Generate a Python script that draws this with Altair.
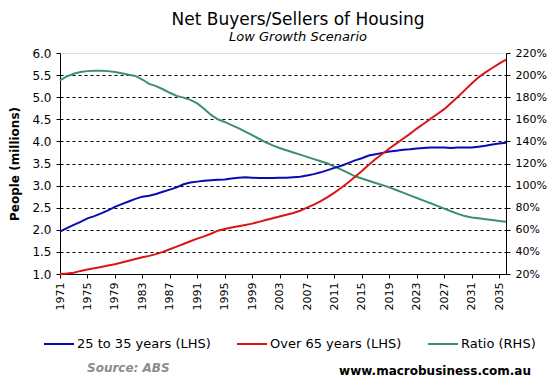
import altair as alt
import pandas as pd

years = list(range(1971, 2037))

young = [1.96, 2.04, 2.11, 2.18, 2.26, 2.31, 2.37, 2.44, 2.52, 2.58,
         2.64, 2.70, 2.75, 2.77, 2.81, 2.86, 2.91, 2.96, 3.03, 3.07,
         3.09, 3.11, 3.12, 3.13, 3.14, 3.16, 3.18, 3.19, 3.18, 3.17,
         3.17, 3.17, 3.18, 3.18, 3.19, 3.20, 3.23, 3.26, 3.30, 3.35,
         3.40, 3.45, 3.51, 3.57, 3.62, 3.68, 3.71, 3.74, 3.77, 3.79,
         3.81, 3.82, 3.84, 3.85, 3.86, 3.86, 3.86, 3.85, 3.86, 3.86,
         3.86, 3.88, 3.90, 3.93, 3.95, 3.97]

old = [1.00, 1.01, 1.03, 1.07, 1.10, 1.13, 1.16, 1.19, 1.22, 1.26,
       1.30, 1.34, 1.38, 1.41, 1.45, 1.50, 1.56, 1.62, 1.68, 1.74,
       1.80, 1.85, 1.91, 1.98, 2.02, 2.05, 2.08, 2.11, 2.14, 2.18,
       2.22, 2.26, 2.30, 2.34, 2.38, 2.43, 2.50, 2.57, 2.65, 2.74,
       2.84, 2.95, 3.07, 3.20, 3.33, 3.47, 3.60, 3.72, 3.84, 3.95,
       4.06, 4.17, 4.29, 4.40, 4.51, 4.62, 4.73, 4.87, 5.01, 5.16,
       5.31, 5.45, 5.56, 5.66, 5.76, 5.85]

ratio = [195.2, 198.8, 201.2, 202.8, 203.6, 204.0, 204.0, 203.6, 202.8, 201.6,
         200.4, 199.2, 196.0, 192.0, 190.0, 187.2, 184.0, 181.2, 179.6, 177.6,
         174.4, 169.6, 164.0, 160.0, 157.6, 154.8, 152.0, 148.8, 145.6, 142.4,
         139.2, 136.4, 134.0, 132.0, 130.0, 128.0, 126.0, 124.0, 122.0, 120.0,
         117.2, 114.4, 111.6, 108.4, 106.4, 104.4, 102.4, 100.4, 98.4, 96.0,
         93.6, 91.2, 88.8, 86.4, 84.0, 81.6, 79.2, 76.8, 74.4, 72.4,
         71.2, 70.4, 69.6, 68.8, 68.0, 67.2]

series_names = ["25 to 35 years (LHS)", "Over 65 years (LHS)", "Ratio (RHS)"]
series_colors = ["#0A0AB4", "#DC1414", "#3C9070"]
year_ticks = list(range(1971, 2036, 4))
left_ticks = [1.0, 1.5, 2.0, 2.5, 3.0, 3.5, 4.0, 4.5, 5.0, 5.5, 6.0]
right_ticks = [20, 40, 60, 80, 100, 120, 140, 160, 180, 200, 220]

FONT = "DejaVu Sans"

df_left = pd.DataFrame({
    "year": years + years,
    "value": young + old,
    "series": [series_names[0]] * len(years) + [series_names[1]] * len(years),
})
df_right = pd.DataFrame({"year": years, "value": ratio, "series": series_names[2]})

color = alt.Color(
    "series:N",
    scale=alt.Scale(domain=series_names, range=series_colors),
    legend=alt.Legend(
        orient="none", direction="horizontal", legendX=-17, legendY=275,
        title=None, symbolType="stroke", symbolSize=900, symbolStrokeWidth=2,
        labelFont=FONT, labelFontSize=13, labelColor="black", labelOffset=2,
        columnPadding=22,
    ),
)

x = alt.X(
    "year:Q",
    scale=alt.Scale(domain=[1971, 2036], nice=False, zero=False),
    axis=alt.Axis(
        values=year_ticks, format="d", labelAngle=270, title=None, grid=False,
        labelFont=FONT, labelFontSize=11, labelColor="black", labelFlush=False,
        labelOverlap=False, tickSize=4, tickColor="black", domainColor="black",
        labelPadding=4,
    ),
)

left = alt.Chart(df_left).mark_line(strokeWidth=2).encode(
    x=x,
    y=alt.Y(
        "value:Q",
        scale=alt.Scale(domain=[1, 6], nice=False, zero=False),
        axis=alt.Axis(
            values=left_ticks, format=".1f", title="People (millions)",
            titleFont=FONT, titleFontSize=12, titleFontWeight="bold", titleColor="black",
            titlePadding=10,
            labelFont=FONT, labelFontSize=12, labelColor="black", labelPadding=5,
            tickSize=4, tickColor="black", domainColor="black",
            grid=True, gridColor="black", gridDash=[3, 3], gridWidth=1,
            gridOpacity={"condition": {"test": "datum.value >= 6", "value": 0}, "value": 1},
        ),
    ),
    color=color,
)

right = alt.Chart(df_right).mark_line(strokeWidth=2).encode(
    x=x,
    y=alt.Y(
        "value:Q",
        scale=alt.Scale(domain=[20, 220], nice=False, zero=False),
        axis=alt.Axis(
            orient="right", values=right_ticks, labelExpr="datum.value + '%'",
            title=None, grid=False,
            labelFont=FONT, labelFontSize=11, labelColor="black", labelPadding=5,
            tickSize=4, tickColor="black", domainColor="black",
        ),
    ),
    color=color,
)

source = alt.Chart(pd.DataFrame({"t": ["Source: ABS"]})).mark_text(
    font=FONT, fontSize=12, fontWeight="bold", fontStyle="italic",
    color="#8C8C8C", align="left", baseline="middle",
).encode(text="t:N", x=alt.value(27), y=alt.value(315))

site = alt.Chart(pd.DataFrame({"t": ["www.macrobusiness.com.au"]})).mark_text(
    font=FONT, fontSize=12, fontWeight="bold", color="black",
    align="right", baseline="middle",
).encode(text="t:N", x=alt.value(471), y=alt.value(318))

chart = (
    alt.layer(right, left, source, site)
    .resolve_scale(y="independent")
    .properties(
        width=446, height=221,
        title=alt.TitleParams(
            text="Net Buyers/Sellers of Housing",
            subtitle="Low Growth Scenario",
            font=FONT, fontSize=17, fontWeight="normal", color="black",
            subtitleFont=FONT, subtitleFontSize=13, subtitleFontStyle="italic",
            subtitleColor="black", subtitlePadding=2,
            anchor="middle", dx=15, offset=2,
        ),
        autosize=alt.AutoSizeParams(type="none"),
        padding={"left": 52, "top": 45, "right": 42, "bottom": 104},
    )
    .configure_view(stroke="#8C8C8C", strokeWidth=1)
    .configure(background="white")
)

chart.save("out.html", embed_options={"renderer": "svg", "actions": False})
